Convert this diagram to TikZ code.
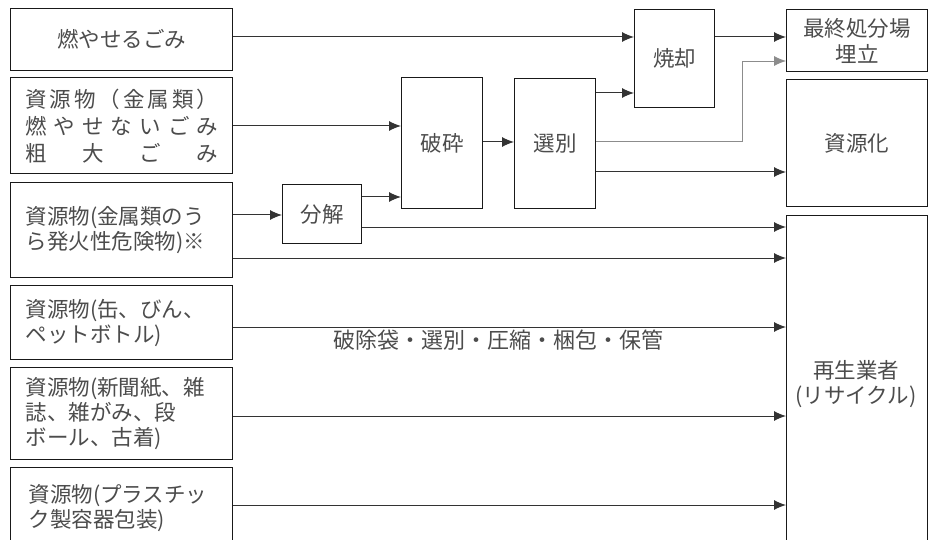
\documentclass[tikz,border=0pt]{standalone}
\usepackage{fontspec}
\setmainfont{Noto Sans CJK JP}
\usetikzlibrary{arrows.meta}
\begin{document}
\begin{tikzpicture}[x=1pt,y=-1pt,
  box/.style={draw=black!90, line width=1.4pt, inner sep=0pt, anchor=north west,
    font=\fontsize{21.5}{25}\selectfont, text=black!70},
  lbox/.style={box, align=left, inner xsep=15pt},
  arr/.style={draw=black!80, line width=1pt, -{Latex[length=12pt,width=10pt]}},
  garr/.style={draw=black!45, line width=0.8pt, -{Latex[length=12pt,width=10pt]}},
  lab/.style={font=\fontsize{21.5}{25}\selectfont, text=black!70}]
\useasboundingbox (0,0) rectangle (934,540);
\clip (0,0) rectangle (934,540);
\fill[white] (0,0) rectangle (934,540);
% left boxes
\node[box, minimum width=222, minimum height=62] (b1) at (10,8) {燃やせるごみ};
\node[box, minimum width=222, minimum height=96, align=left, font=\fontsize{21.5}{27}\selectfont] (b2) at (10,77)
  {\makebox[193pt][s]{資\hfill 源\hfill 物\hfill （\hfill 金\hfill 属\hfill 類\hfill ）}\\
   \makebox[193pt][s]{燃\hfill や\hfill せ\hfill な\hfill い\hfill ご\hfill み}\\
   \makebox[193pt][s]{粗\hfill 大\hfill ご\hfill み}};
\node[lbox, text width=192pt, minimum width=222, minimum height=95] (b3) at (10,182)
  {資源物(金属類のう\\ら発火性危険物)※};
\node[lbox, text width=192pt, minimum width=222, minimum height=74] (b4) at (10,285)
  {資源物(缶、びん、\\ペットボトル)};
\node[lbox, text width=192pt, minimum width=222, minimum height=92] (b5) at (10,367)
  {資源物(新聞紙、雑\\誌、雑がみ、段\\ボール、古着)};
\node[lbox, text width=192pt, minimum width=222, minimum height=81] (b6) at (10,467) {};
\node[lab, anchor=north west, align=left] (b6t) at (25,481) {資源物(プラスチッ\\ク製容器包装)};
% middle boxes
\node[box, minimum width=79, minimum height=59] (bunkai) at (282,184) {分解};
\node[box, minimum width=81, minimum height=131] (hasai) at (401,77) {破砕};
\node[box, minimum width=81, minimum height=130] (senbetsu) at (514,78) {選別};
\node[box, minimum width=80, minimum height=98] (shokyaku) at (634,9) {焼却};
% right boxes
\node[box, minimum width=141, minimum height=62, align=center, font=\fontsize{21.5}{26}\selectfont] (saishu) at (786,9) {最終処分場\\埋立};
\node[box, minimum width=141, minimum height=127] (shigenka) at (786,79) {資源化};
\node[box, minimum width=141, minimum height=333] (saisei) at (786,215) {};
\node[lab, align=center] (saiseit) at (856,384) {再生業者\\(リサイクル)};
% connectors
\draw[arr] (b1.east |- 0,37) -- (shokyaku.west |- 0,37);
\draw[arr] (b2.east |- 0,126) -- (hasai.west |- 0,126);
\draw[arr] (b3.east |- 0,215) -- (bunkai.west |- 0,215);
\draw[arr] (bunkai.east |- 0,197) -- (hasai.west |- 0,197);
\draw[arr] (hasai.east |- 0,142) -- (senbetsu.west |- 0,142);
\draw[arr] (senbetsu.east |- 0,93) -- (shokyaku.west |- 0,93);
\coordinate (g1) at (742,141);
\coordinate (g2) at (742,61);
\draw[garr] (senbetsu.east |- g1) -- (g1) -- (g2) -- (saishu.west |- g2);
\draw[arr] (senbetsu.east |- 0,172) -- (shigenka.west |- 0,172);
\draw[arr] (shokyaku.east |- 0,37) -- (saishu.west |- 0,37);
\draw[arr] (bunkai.east |- 0,227) -- (saisei.west |- 0,227);
\draw[arr] (b3.east |- 0,258) -- (saisei.west |- 0,258);
\draw[arr] (b4.east |- 0,327) -- (saisei.west |- 0,327);
\draw[arr] (b5.east |- 0,416) -- (saisei.west |- 0,416);
\draw[arr] (b6.east |- 0,505) -- (saisei.west |- 0,505);
\node[lab, font=\fontsize{22}{25}\selectfont] (proc) at (498,340) {破除袋・選別・圧縮・梱包・保管};
\end{tikzpicture}
\end{document}
